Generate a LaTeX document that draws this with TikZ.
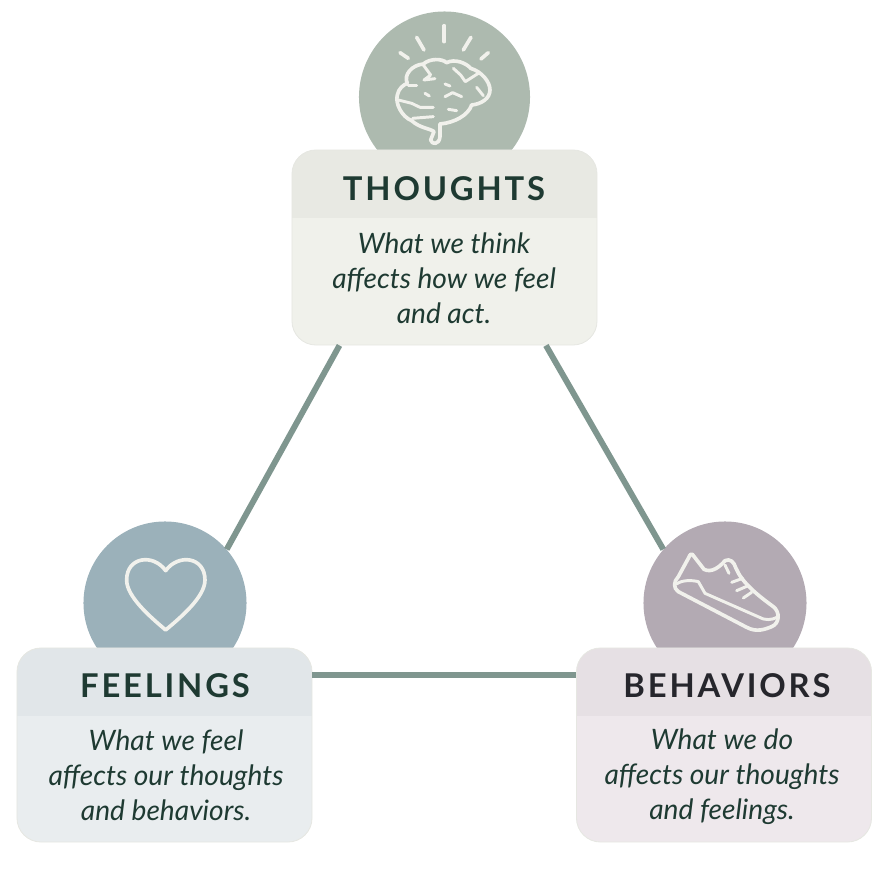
\documentclass[tikz,border=0pt]{standalone}
\usepackage{fontspec}
\setmainfont{Lato}
\newfontfamily\titlefont[LetterSpace=8.6]{Lato}
\usepackage{xcolor}
\usetikzlibrary{arrows.meta,positioning,calc}

\definecolor{thoughtsDisc}{HTML}{ADBAAF}
\definecolor{thoughtsHead}{HTML}{E8E9E3}
\definecolor{thoughtsBody}{HTML}{F0F1EB}
\definecolor{feelingsDisc}{HTML}{9BB1BA}
\definecolor{feelingsHead}{HTML}{E1E6E9}
\definecolor{feelingsBody}{HTML}{E9EDEF}
\definecolor{behaviorsDisc}{HTML}{B3AAB3}
\definecolor{behaviorsHead}{HTML}{E6E0E4}
\definecolor{behaviorsBody}{HTML}{EEE8EC}
\definecolor{linkCol}{HTML}{7F968F}
\definecolor{inkCol}{HTML}{1E3A32}
\definecolor{inkDark}{HTML}{26262C}
\definecolor{iconCol}{HTML}{F1F1EC}
\definecolor{rimCol}{HTML}{E6E7E2}

\tikzset{
  disc/.style={circle,inner sep=0pt,minimum size=#1},
  card/.style 2 args={rectangle,draw=rimCol,line width=0.6pt,rounded corners=0.6cm,inner sep=0pt,fill=#1,
    path picture={\fill[#2,sharp corners] (path picture bounding box.north west) rectangle
      ([yshift=-1.7cm]path picture bounding box.north east);}},
  cardtitle/.style={text=inkCol,font=\titlefont\bfseries\fontsize{23.3}{28}\selectfont},
  cardtext/.style={text=inkCol,align=center,font=\itshape\fontsize{20}{24.8}\selectfont},
  link/.style={draw=linkCol,line width=4.2pt},
  icon/.style={draw=iconCol,line width=2.6pt,line cap=round,line join=round},
  iconthin/.style={draw=iconCol,line width=2.1pt,line cap=round,line join=round}
}

\begin{document}
\begin{tikzpicture}[x=0.025cm,y=-0.025cm]
  \useasboundingbox (0,0) rectangle (890,873);
  % Discs
  \node[disc=4.275cm,fill=thoughtsDisc] (thoughtsDisc) at (444.5,97) {};
  \node[disc=4.075cm,fill=feelingsDisc] (feelingsDisc) at (165,603) {};
  \node[disc=4.075cm,fill=behaviorsDisc] (behaviorsDisc) at (725,603) {};
  % Cards
  \node[card={thoughtsBody}{thoughtsHead},minimum width=7.625cm,minimum height=4.875cm] (thoughtsCard) at (444.5,247.5) {};
  \node[card={feelingsBody}{feelingsHead},minimum width=7.375cm,minimum height=4.85cm] (feelingsCard) at (164.5,745) {};
  \node[card={behaviorsBody}{behaviorsHead},minimum width=7.375cm,minimum height=4.85cm] (behaviorsCard) at (724,745) {};
  % Links
  \coordinate (lowLink) at (444,675);
  \draw[link] (thoughtsCard.223.6) -- (feelingsDisc.41);
  \draw[link] (thoughtsCard.316.4) -- (behaviorsDisc.139);
  \draw[link] (feelingsCard.east |- lowLink) -- (behaviorsCard.west |- lowLink);
  % Titles
  \node[cardtitle] (thoughtsTitle) at (444,189) {THOUGHTS};
  \node[cardtitle] (feelingsTitle) at (165,686) {FEELINGS};
  \node[cardtitle,text=inkDark] (behaviorsTitle) at (727,686) {BEHAVIORS};
  % Texts
  \node[cardtext] (thoughtsText) at (444,278) {What we think\\affects how we feel\\and act.};
  \node[cardtext] (feelingsText) at (166,775) {What we feel\\affects our thoughts\\and behaviors.};
  \node[cardtext] (behaviorsText) at (722,777) {What we do\\affects our thoughts\\and feelings.};
  % Brain
  \begin{scope}[shift={(340,0)},scale=0.3333]
    \draw[icon] (215,362) .. controls (185,350) and (165,310) .. (172,285) .. controls (176,265) and (190,255) .. (202,250) .. controls (190,225) and (215,195) .. (250,192) .. controls (270,175) and (305,175) .. (320,188) .. controls (345,175) and (380,190) .. (392,205) .. controls (425,215) and (450,245) .. (450,270) .. controls (450,295) and (425,312) .. (395,315) .. controls (385,345) and (345,368) .. (300,372);
    \draw[icon] (300,372) -- (300,410) .. controls (298,435) and (275,435) .. (272,420) -- (282,395) .. controls (270,385) and (240,385) .. (215,362);
    \draw[iconthin] (175,300) -- (215,310) -- (240,322) -- (280,322);
    \draw[iconthin] (218,355) -- (280,350);
    \draw[iconthin] (250,195) -- (272,225) -- (252,240) -- (285,236);
    \draw[iconthin] (205,256) -- (230,256);
    \draw[iconthin] (340,205) -- (362,225) -- (376,245) -- (415,220);
    \draw[iconthin] (410,262) -- (430,287);
    \draw[iconthin] (315,290) -- (338,278) -- (365,290);
    \draw[iconthin] (325,328) -- (350,332);
    \draw[iconthin] (255,280) -- (268,288);
    \draw[iconthin] (315,252) -- (330,258);
    % rays
    \draw[icon] (313,77) -- (313,125);
    \draw[icon] (230,112) -- (252,150);
    \draw[icon] (393,112) -- (370,150);
    \draw[icon] (180,158) -- (205,175);
    \draw[icon] (445,158) -- (423,177);
  \end{scope}
  % Heart
  \begin{scope}[shift={(0,510)},scale=0.3333]
    \draw[icon] (497,182) .. controls (460,130) and (380,140) .. (380,210) .. controls (380,260) and (450,320) .. (497,360) .. controls (545,320) and (615,260) .. (615,210) .. controls (615,140) and (535,130) .. (497,182) -- cycle;
  \end{scope}
  % Shoe
  \begin{scope}[shift={(630,510)},scale=0.3333]
    \draw[icon] (187,133) -- (222,178) .. controls (245,190) and (270,170) .. (285,152) .. controls (300,145) and (312,155) .. (318,175) .. controls (335,215) and (375,250) .. (430,290) .. controls (450,305) and (450,340) .. (425,350) .. controls (405,358) and (380,368) .. (350,352) -- (145,245) .. controls (130,235) and (130,215) .. (145,200) -- (175,145) .. controls (180,132) and (185,130) .. (187,133) -- cycle;
    \draw[iconthin] (140,222) .. controls (155,210) and (185,210) .. (205,215) -- (225,250) -- (400,327) .. controls (420,332) and (440,325) .. (445,318);
    \draw[iconthin] (285,165) -- (297,190);
    \draw[iconthin] (305,217) -- (338,205);
    \draw[iconthin] (320,242) -- (355,227);
    \draw[iconthin] (340,264) -- (365,247);
  \end{scope}
\end{tikzpicture}
\end{document}
